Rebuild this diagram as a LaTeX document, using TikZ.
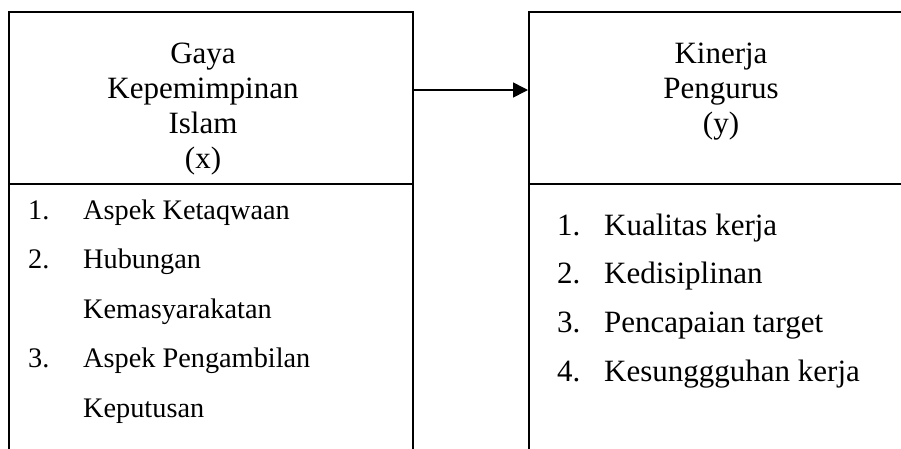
\documentclass[tikz,border=0pt]{standalone}
\usepackage{fontspec}
\setmainfont{Liberation Serif}
\usetikzlibrary{arrows.meta}
\begin{document}
\begin{tikzpicture}[x=1pt,y=-1pt,
  boxline/.style={draw=black,line width=1.6pt},
  hdr/.style={anchor=base,inner sep=0pt,font=\fontsize{31}{35}\selectfont},
  litem/.style={anchor=base west,inner sep=0pt,font=\fontsize{28.3}{34}\selectfont},
  ritem/.style={anchor=base west,inner sep=0pt,font=\fontsize{31}{36}\selectfont},
  link/.style={line width=1.6pt,-{Triangle[length=15pt,width=15pt]}}]
\useasboundingbox (0,0) rectangle (901,448);
\clip (0,0) rectangle (901,448);
% boxes
\node[boxline,anchor=north west,minimum width=404pt,minimum height=172pt,inner sep=0pt] (lh) at (8,11) {};
\node[boxline,anchor=north west,minimum width=404pt,minimum height=300pt,inner sep=0pt] (lb) at (8,183) {};
\node[boxline,anchor=north west,minimum width=420pt,minimum height=172pt,inner sep=0pt] (rh) at (528,11) {};
\node[boxline,anchor=north west,minimum width=420pt,minimum height=300pt,inner sep=0pt] (rb) at (528,183) {};
% left header
\node[hdr] (l1) at (203,63) {Gaya};
\node[hdr] (l2) at (203,98) {Kepemimpinan};
\node[hdr] (l3) at (203,133) {Islam};
\node[hdr] (l4) at (203,168) {(x)};
% left list
\node[litem] (n1) at (28,219) {1.};
\node[litem] (t1) at (83,219) {Aspek Ketaqwaan};
\node[litem] (n2) at (28,268) {2.};
\node[litem] (t2) at (83,268) {Hubungan};
\node[litem] (t2b) at (83,318) {Kemasyarakatan};
\node[litem] (n3) at (28,367) {3.};
\node[litem] (t3) at (83,367) {Aspek Pengambilan};
\node[litem] (t3b) at (83,417) {Keputusan};
% right header
\node[hdr] (r1) at (721,63) {Kinerja};
\node[hdr] (r2) at (721,98.5) {Pengurus};
\node[hdr] (r3) at (721,133) {(y)};
% right list
\node[ritem] (m1) at (557,235) {1.};
\node[ritem] (s1) at (604,235) {Kualitas kerja};
\node[ritem] (m2) at (557,283) {2.};
\node[ritem] (s2) at (604,283) {Kedisiplinan};
\node[ritem] (m3) at (557,332) {3.};
\node[ritem] (s3) at (604,332) {Pencapaian target};
\node[ritem] (m4) at (557,381) {4.};
\node[ritem] (s4) at (604,381) {Kesunggguhan kerja};
% arrow
\draw[link] (lh.east |- 0,90) -- (rh.west |- 0,90);
\end{tikzpicture}
\end{document}
